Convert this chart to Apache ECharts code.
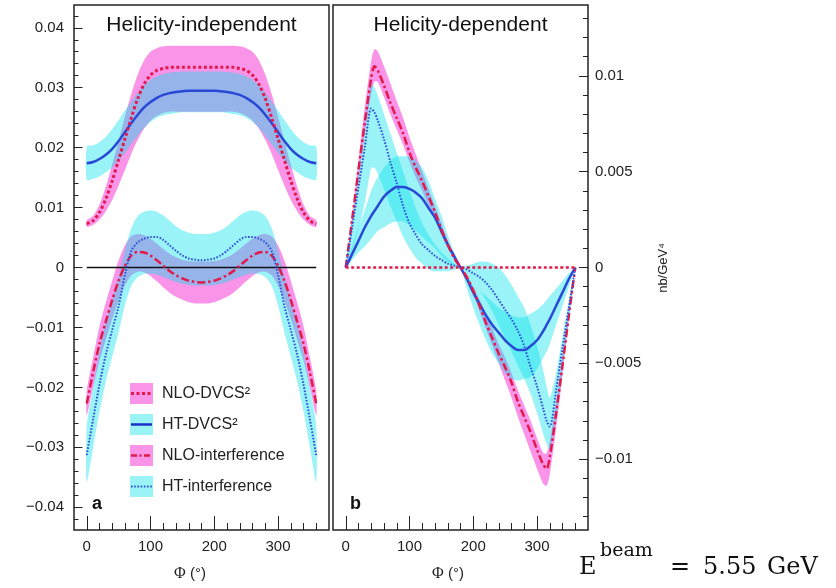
<!DOCTYPE html>
<html><head><meta charset="utf-8">
<script src="https://cdn.jsdelivr.net/npm/echarts@6/dist/echarts.min.js"></script>
<style>html,body{margin:0;padding:0;background:#fff}#c{width:836px;height:588px}</style>
</head><body><div id="c"></div>
<script>
// ---------- Panel a (helicity-independent) ----------
const phiA = [0,10,20,30,40,50,60,70,80,90,100,110,120,130,140,150,160,170,180,190,200,210,220,230,240,250,260,270,280,290,300,310,320,330,340,350,360];
const nloDvcsA = [0.0073,0.0078,0.0092,0.0115,0.0145,0.0180,0.0215,0.0250,0.0282,0.0306,0.0321,0.0329,0.0332,0.0334,0.0334,0.0334,0.0334,0.0334,0.0334,
  0.0334,0.0334,0.0334,0.0334,0.0334,0.0332,0.0329,0.0321,0.0306,0.0282,0.0250,0.0215,0.0180,0.0145,0.0115,0.0092,0.0078,0.0073];
const nloDvcsALow = [0.0068,0.0071,0.0080,0.0094,0.0113,0.0137,0.0163,0.0190,0.0213,0.0232,0.0245,0.0253,0.0258,0.0260,0.0260,0.0260,0.0260,0.0260,0.0260,
  0.0260,0.0260,0.0260,0.0260,0.0260,0.0258,0.0253,0.0245,0.0232,0.0213,0.0190,0.0163,0.0137,0.0113,0.0094,0.0080,0.0071,0.0068];
const nloDvcsAHigh = [0.0079,0.0086,0.0105,0.0135,0.0172,0.0212,0.0252,0.0290,0.0322,0.0346,0.0360,0.0366,0.0369,0.0370,0.0370,0.0370,0.0370,0.0370,0.0370,
  0.0370,0.0370,0.0370,0.0370,0.0370,0.0369,0.0366,0.0360,0.0346,0.0322,0.0290,0.0252,0.0212,0.0172,0.0135,0.0105,0.0086,0.0079];
const htDvcsA = [0.0174,0.0176,0.0181,0.0188,0.0198,0.0211,0.0226,0.0241,0.0255,0.0267,0.0276,0.0283,0.0288,0.0291,0.0293,0.0294,0.0295,0.0295,0.0295,
  0.0295,0.0295,0.0294,0.0293,0.0291,0.0288,0.0283,0.0276,0.0267,0.0255,0.0241,0.0226,0.0211,0.0198,0.0188,0.0181,0.0176,0.0174];
const htDvcsALow = [0.0146,0.0148,0.0152,0.0159,0.0167,0.0178,0.0191,0.0206,0.0220,0.0233,0.0243,0.0250,0.0254,0.0256,0.0258,0.0259,0.0259,0.0259,0.0259,
  0.0259,0.0259,0.0259,0.0258,0.0256,0.0254,0.0250,0.0243,0.0233,0.0220,0.0206,0.0191,0.0178,0.0167,0.0159,0.0152,0.0148,0.0146];
const htDvcsAHigh = [0.0202,0.0204,0.0209,0.0218,0.0231,0.0246,0.0262,0.0277,0.0292,0.0304,0.0313,0.0319,0.0323,0.0325,0.0326,0.0327,0.0327,0.0327,0.0327,
  0.0327,0.0327,0.0327,0.0326,0.0325,0.0323,0.0319,0.0313,0.0304,0.0292,0.0277,0.0262,0.0246,0.0231,0.0218,0.0209,0.0204,0.0202];
const nloIntA = [-0.0227,-0.0175,-0.0127,-0.0090,-0.0054,-0.0022,0.0003,0.0020,0.0026,0.0025,0.0020,0.0012,0.0003,-0.0006,-0.0013,-0.0018,-0.0022,-0.0024,-0.0025,
  -0.0024,-0.0022,-0.0018,-0.0013,-0.0006,0.0003,0.0012,0.0020,0.0025,0.0026,0.0020,0.0003,-0.0022,-0.0054,-0.0090,-0.0127,-0.0175,-0.0227];
const nloIntALow = [-0.0247,-0.0200,-0.0155,-0.0120,-0.0086,-0.0055,-0.0030,-0.0013,-0.0007,-0.0008,-0.0014,-0.0023,-0.0033,-0.0042,-0.0049,-0.0054,-0.0058,-0.0060,-0.0060,
  -0.0060,-0.0058,-0.0054,-0.0049,-0.0042,-0.0033,-0.0023,-0.0014,-0.0008,-0.0007,-0.0013,-0.0030,-0.0055,-0.0086,-0.0120,-0.0155,-0.0200,-0.0247];
const nloIntAHigh = [-0.0206,-0.0150,-0.0098,-0.0058,-0.0022,0.0012,0.0037,0.0052,0.0056,0.0054,0.0048,0.0040,0.0031,0.0023,0.0017,0.0013,0.0011,0.0010,0.0010,
  0.0010,0.0011,0.0013,0.0017,0.0023,0.0031,0.0040,0.0048,0.0054,0.0056,0.0052,0.0037,0.0012,-0.0022,-0.0058,-0.0098,-0.0150,-0.0206];
const htIntA = [-0.0313,-0.0253,-0.0195,-0.0145,-0.0104,-0.0064,-0.0012,0.0028,0.0042,0.0048,0.0051,0.0051,0.0046,0.0037,0.0028,0.0020,0.0015,0.0013,0.0012,
  0.0013,0.0015,0.0020,0.0028,0.0037,0.0046,0.0051,0.0051,0.0048,0.0042,0.0028,-0.0012,-0.0064,-0.0104,-0.0145,-0.0195,-0.0253,-0.0313];
const htIntALow = [-0.0358,-0.0300,-0.0240,-0.0190,-0.0148,-0.0108,-0.0062,-0.0030,-0.0016,-0.0011,-0.0010,-0.0012,-0.0016,-0.0020,-0.0024,-0.0027,-0.0029,-0.0030,-0.0030,
  -0.0030,-0.0029,-0.0027,-0.0024,-0.0020,-0.0016,-0.0012,-0.0010,-0.0011,-0.0016,-0.0030,-0.0062,-0.0108,-0.0148,-0.0190,-0.0240,-0.0300,-0.0358];
const htIntAHigh = [-0.0266,-0.0200,-0.0140,-0.0092,-0.0055,-0.0015,0.0030,0.0066,0.0086,0.0093,0.0095,0.0093,0.0087,0.0078,0.0069,0.0062,0.0058,0.0056,0.0056,
  0.0056,0.0058,0.0062,0.0069,0.0078,0.0087,0.0093,0.0095,0.0093,0.0086,0.0066,0.0030,-0.0015,-0.0055,-0.0092,-0.0140,-0.0200,-0.0266];
const zeroPhi = [0, 360];
const zeroVal = [0, 0];

// ---------- Panel b (helicity-dependent) ----------
const phiB = [0,10,20,30,40,45,50,60,70,80,90,100,110,120,130,140,150,160,170,180,190,200,210,220,230,240,250,260,270,280,290,300,310,315,320,330,340,350,360];
const nloDvcsBPhi = [0, 360];
const nloDvcsB = [0, 0];
const htDvcsB = [0,0.0007,0.0014,0.0021,0.0027,0.00295,0.0032,0.0037,0.0040,0.0042,0.0042,0.0041,0.0039,0.0036,0.0031,0.0026,0.0019,0.0012,0.0006,0,
  -0.0006,-0.0013,-0.0019,-0.0025,-0.0030,-0.0034,-0.0038,-0.0041,-0.0043,-0.0043,-0.0041,-0.0038,-0.0033,-0.0030,-0.0027,-0.0020,-0.0013,-0.0006,0];
const htDvcsBLow = [0,0.0004,0.0008,0.0011,0.0015,0.0017,0.0019,0.0021,0.0023,0.0024,0.0024,0.0022,0.0019,0.0016,0.0013,0.0010,0.0006,0.0003,0.0001,0,
  -0.0011,-0.0021,-0.0030,-0.0038,-0.0045,-0.0050,-0.0055,-0.0058,-0.0059,-0.0058,-0.0057,-0.0053,-0.0047,-0.0044,-0.0040,-0.0030,-0.0020,-0.0010,0];
const htDvcsBHigh = [0,0.0011,0.0021,0.0030,0.0040,0.0044,0.0047,0.0052,0.0056,0.0058,0.0058,0.0058,0.0056,0.0052,0.0045,0.0036,0.0027,0.0017,0.0008,0,
  -0.0004,-0.0008,-0.0012,-0.0015,-0.0018,-0.0021,-0.0023,-0.0025,-0.0026,-0.0026,-0.0024,-0.0022,-0.0019,-0.0017,-0.0015,-0.0011,-0.0007,-0.0003,0];
const nloIntB = [0,0.0025,0.0051,0.0076,0.0099,0.0105,0.0103,0.0095,0.0086,0.0078,0.0070,0.0060,0.0052,0.0045,0.0037,0.0029,0.0020,0.0012,0.0005,0,
  -0.0005,-0.0012,-0.0020,-0.0029,-0.0037,-0.0045,-0.0052,-0.0060,-0.0070,-0.0078,-0.0086,-0.0095,-0.0103,-0.0105,-0.0099,-0.0076,-0.0051,-0.0025,0];
const nloIntBLow = [0,0.0023,0.0047,0.0070,0.0091,0.0097,0.0097,0.0089,0.0080,0.0072,0.0064,0.0055,0.0047,0.0040,0.0032,0.0025,0.0017,0.0010,0.0004,0,
  -0.0006,-0.0014,-0.0023,-0.0032,-0.0041,-0.0050,-0.0059,-0.0068,-0.0078,-0.0087,-0.0096,-0.0105,-0.0113,-0.0114,-0.0108,-0.0084,-0.0056,-0.0027,0];
const nloIntBHigh = [0,0.0027,0.0056,0.0084,0.0108,0.0114,0.0113,0.0105,0.0096,0.0087,0.0078,0.0068,0.0059,0.0050,0.0041,0.0032,0.0023,0.0014,0.0006,0,
  -0.0004,-0.0010,-0.0017,-0.0025,-0.0032,-0.0040,-0.0047,-0.0055,-0.0064,-0.0072,-0.0080,-0.0089,-0.0097,-0.0097,-0.0091,-0.0070,-0.0047,-0.0023,0];
const htIntB = [0,0.0021,0.0042,0.0063,0.0083,0.0081,0.0077,0.0067,0.0055,0.0044,0.0032,0.0023,0.0017,0.0012,0.0009,0.0006,0.0004,0.0002,0.0001,0,
  -0.0001,-0.0003,-0.0005,-0.0008,-0.0012,-0.0017,-0.0022,-0.0027,-0.0033,-0.0041,-0.0052,-0.0062,-0.0074,-0.0080,-0.0083,-0.0064,-0.0042,-0.0021,0];
const htIntBLow = [0,0.0009,0.0020,0.0034,0.0052,0.0052,0.0049,0.0041,0.0032,0.0024,0.0016,0.0010,0.0005,0.0002,-0.0001,-0.0002,-0.0002,-0.0002,-0.0001,0,
  -0.0004,-0.0008,-0.0012,-0.0017,-0.0023,-0.0030,-0.0037,-0.0044,-0.0051,-0.0058,-0.0066,-0.0076,-0.0087,-0.0092,-0.0095,-0.0078,-0.0052,-0.0026,0];
const htIntBHigh = [0,0.0024,0.0049,0.0073,0.0096,0.0094,0.0090,0.0080,0.0070,0.0060,0.0050,0.0040,0.0031,0.0023,0.0017,0.0012,0.0008,0.0005,0.0002,0,
  0.0001,0.0002,0.0003,0.0003,0.0002,0.0000,-0.0004,-0.0009,-0.0015,-0.0021,-0.0030,-0.0041,-0.0054,-0.0062,-0.0068,-0.0055,-0.0036,-0.0017,0];

// ---------- ticks and labels ----------
const xMinorTicks = [0,20,40,60,80,100,120,140,160,180,200,220,240,260,280,300,320,340,360];
const xMajorTicks = [0,100,200,300];
const xLabels = [0,100,200,300];
const yAMinorTicks = [-0.042,-0.040,-0.038,-0.036,-0.034,-0.032,-0.030,-0.028,-0.026,-0.024,-0.022,-0.020,-0.018,-0.016,-0.014,-0.012,-0.010,-0.008,-0.006,-0.004,-0.002,0,
  0.002,0.004,0.006,0.008,0.010,0.012,0.014,0.016,0.018,0.020,0.022,0.024,0.026,0.028,0.030,0.032,0.034,0.036,0.038,0.040,0.042];
const yAMajorTicks = [-0.04,-0.03,-0.02,-0.01,0,0.01,0.02,0.03,0.04];
const yALabels = [-0.04,-0.03,-0.02,-0.01,0,0.01,0.02,0.03,0.04];
const yBMinorTicks = [-0.013,-0.012,-0.011,-0.010,-0.009,-0.008,-0.007,-0.006,-0.005,-0.004,-0.003,-0.002,-0.001,0,
  0.001,0.002,0.003,0.004,0.005,0.006,0.007,0.008,0.009,0.010,0.011,0.012,0.013];
const yBMajorTicks = [-0.01,-0.005,0,0.005,0.01];
const yBLabels = [-0.01,-0.005,0,0.005,0.01];

// ---------- build ----------
const SANS = '"Liberation Sans", Arial, Helvetica, sans-serif';
const PINK = 'rgba(245,60,215,0.55)';
const CYAN = 'rgba(0,225,235,0.40)';
const RED = '#e3194b';
const BLUE = '#2848d6';
const BLUE_DOT = '#2f50d8';
const SM = 0.3;

function fmt(v) {
  if (Math.abs(v) < 1e-12) return '0';
  const s = String(parseFloat(Math.abs(v).toFixed(4)));
  return (v < 0 ? '\u2212' : '') + s;
}
function pairs(px, py) { return px.map((p, i) => [p, py[i]]); }
function band(id, xi, yi, px, lo, hi, color, z) {
  return {
    type:'custom', name:id, xAxisIndex:xi, yAxisIndex:yi, clip:true, silent:true, z:z,
    data: px.map((p, i) => [p, lo[i], hi[i]]),
    encode:{x:0, y:[1,2]},
    renderItem: function (params, api) {
      if (params.dataIndexInside !== 0) return null;
      const n = params.dataInsideLength;
      const up = [], dn = [];
      for (let i = 0; i < n; i++) {
        const x = api.value(0, i);
        up.push(api.coord([x, api.value(2, i)]));
        dn.push(api.coord([x, api.value(1, i)]));
      }
      return { type:'polygon', shape:{points: up.concat(dn.reverse()), smooth:0.25}, style:{fill:color} };
    }
  };
}
function curve(name, xi, yi, px, py, color, width, type, z) {
  return { type:'line', name, xAxisIndex:xi, yAxisIndex:yi, data:pairs(px, py), symbol:'none',
    smooth:SM, lineStyle:{color, width, type, cap:'butt'}, z:z, silent:true };
}

const series = [
  band('a1', 0, 0, phiA, nloDvcsALow, nloDvcsAHigh, PINK, 1),
  band('a3', 0, 0, phiA, nloIntALow, nloIntAHigh, PINK, 1),
  band('a2', 0, 0, phiA, htDvcsALow, htDvcsAHigh, CYAN, 2),
  band('a4', 0, 0, phiA, htIntALow, htIntAHigh, CYAN, 2),
  band('b3', 2, 2, phiB, nloIntBLow, nloIntBHigh, PINK, 1),
  band('b2', 2, 2, phiB, htDvcsBLow, htDvcsBHigh, CYAN, 2),
  band('b4', 2, 2, phiB, htIntBLow, htIntBHigh, CYAN, 2),
  curve('zeroA', 0, 0, zeroPhi, zeroVal, '#111', 1.6, 'solid', 5),
  curve('htDvcsA', 0, 0, phiA, htDvcsA, BLUE, 2.5, 'solid', 6),
  curve('nloDvcsA', 0, 0, phiA, nloDvcsA, RED, 3, [3, 2.5], 6),
  curve('nloIntA', 0, 0, phiA, nloIntA, RED, 2.5, [8, 3, 2.5, 3], 6),
  curve('htIntA', 0, 0, phiA, htIntA, BLUE_DOT, 2, [1.6, 1.6], 7),
  curve('htDvcsB', 2, 2, phiB, htDvcsB, BLUE, 2.5, 'solid', 6),
  curve('nloIntB', 2, 2, phiB, nloIntB, RED, 2.5, [8, 3, 2.5, 3], 6),
  curve('htIntB', 2, 2, phiB, htIntB, BLUE_DOT, 2, [1.6, 1.6], 7),
  curve('nloDvcsB', 2, 2, nloDvcsBPhi, nloDvcsB, RED, 2.5, [3, 2.5], 8)
];

const tickStyle = {color:'#222', width:1};
function xAx(grid, major) {
  return { gridIndex:grid, type:'value', min:-20, max:380, position:'bottom',
    axisLine:{show:false, onZero:false},
    axisTick:{show:true, inside:true, length: major ? 14 : 7, customValues: major ? xMajorTicks : xMinorTicks, lineStyle:tickStyle},
    axisLabel: major ? {show:false} : {show:true, customValues:xLabels, margin:9, fontSize:15, color:'#222', fontFamily:SANS},
    splitLine:{show:false} };
}
function yAx(grid, pos, min, max, minorT, majorT, labels, major, lenMinor, lenMajor, margin) {
  return { gridIndex:grid, type:'value', min, max, position:pos,
    axisLine:{show:false, onZero:false},
    axisTick:{show:true, inside:true, length: major ? lenMajor : lenMinor, customValues: major ? majorT : minorT, lineStyle:tickStyle},
    axisLabel: major ? {show:false} : {show:true, customValues:labels, formatter:fmt, margin, fontSize:15, color:'#222', fontFamily:SANS},
    splitLine:{show:false} };
}

const legendRows = [
  {y:393.5, fill:PINK, label:'NLO-DVCS\u00b2', stroke:RED, w:3, dash:[3,2.5]},
  {y:424.5, fill:CYAN, label:'HT-DVCS\u00b2', stroke:'#1f30c8', w:2.5, dash:null},
  {y:455.5, fill:PINK, label:'NLO-interference', stroke:RED, w:2.5, dash:[6,2.5,2,2.5]},
  {y:486.5, fill:CYAN, label:'HT-interference', stroke:BLUE_DOT, w:2, dash:[1.6,1.6]}
];
const graphics = [];
legendRows.forEach(r => {
  graphics.push({type:'rect', shape:{x:130, y:r.y-10.5, width:23, height:21}, style:{fill:r.fill}, z:20});
  graphics.push({type:'line', shape:{x1:131, y1:r.y, x2:152, y2:r.y}, style:{stroke:r.stroke, lineWidth:r.w, lineDash:r.dash}, z:21});
  graphics.push({type:'text', x:162, y:r.y+0.5, style:{text:r.label, font:'16px '+SANS, fill:'#222', verticalAlign:'middle'}, z:21});
});
graphics.push(
  {type:'text', x:201.5, y:25, style:{text:'Helicity-independent', font:'21px '+SANS, fill:'#111', align:'center', verticalAlign:'middle'}, z:21},
  {type:'text', x:460.5, y:25, style:{text:'Helicity-dependent', font:'21px '+SANS, fill:'#111', align:'center', verticalAlign:'middle'}, z:21},
  {type:'text', x:92, y:504, style:{text:'a', font:'bold 18px '+SANS, fill:'#111', verticalAlign:'middle'}, z:21},
  {type:'text', x:350, y:504, style:{text:'b', font:'bold 18px '+SANS, fill:'#111', verticalAlign:'middle'}, z:21},
  {type:'text', x:190, y:574, style:{text:'{p|\u03a6} (\u00b0)', rich:{p:{fontFamily:'"Liberation Serif", serif', fontSize:16, fill:'#222'}}, font:'15px '+SANS, fill:'#222', align:'center', verticalAlign:'middle'}, z:21},
  {type:'text', x:448, y:574, style:{text:'{p|\u03a6} (\u00b0)', rich:{p:{fontFamily:'"Liberation Serif", serif', fontSize:16, fill:'#222'}}, font:'15px '+SANS, fill:'#222', align:'center', verticalAlign:'middle'}, z:21},
  {type:'text', x:663, y:268, rotation:Math.PI/2, style:{text:'nb/GeV\u2074', font:'13px '+SANS, fill:'#222', align:'center', verticalAlign:'middle'}, z:21},
  {type:'text', x:579, y:567.5, style:{text:'E', font:'24px "DejaVu Serif", serif', fill:'#111', verticalAlign:'middle'}, z:21},
  {type:'text', x:600, y:551, style:{text:'beam', font:'19px "DejaVu Serif", serif', fill:'#111', verticalAlign:'middle'}, z:21},
  {type:'text', x:670, y:567.5, style:{text:'=', font:'24px "DejaVu Serif", serif', fill:'#111', verticalAlign:'middle'}, z:21},
  {type:'text', x:703, y:567.5, style:{text:'5.55', font:'24px "DejaVu Serif", serif', fill:'#111', verticalAlign:'middle'}, z:21},
  {type:'text', x:767, y:567.5, style:{text:'GeV', font:'24px "DejaVu Serif", serif', fill:'#111', verticalAlign:'middle'}, z:21}
);

const option = {
  animation:false,
  backgroundColor:'#fff',
  grid:[
    {left:74, top:5, width:255, height:525, show:true, borderColor:'#222', borderWidth:1.5, backgroundColor:'rgba(0,0,0,0)'},
    {left:333, top:5, width:255, height:525, show:true, borderColor:'#222', borderWidth:1.5, backgroundColor:'rgba(0,0,0,0)'}
  ],
  xAxis:[xAx(0,false), xAx(0,true), xAx(1,false), xAx(1,true)],
  yAxis:[
    yAx(0,'left',-0.0438,0.0438,yAMinorTicks,yAMajorTicks,yALabels,false,4.5,8.5,10),
    yAx(0,'left',-0.0438,0.0438,yAMinorTicks,yAMajorTicks,yALabels,true,4.5,8.5,10),
    yAx(1,'right',-0.0137,0.0137,yBMinorTicks,yBMajorTicks,yBLabels,false,5,9,7),
    yAx(1,'right',-0.0137,0.0137,yBMinorTicks,yBMajorTicks,yBLabels,true,5,9,7)
  ],
  series:series,
  graphic:graphics
};
const chart = echarts.init(document.getElementById('c'), null, {renderer:'canvas'});
chart.setOption(option);
</script>
</body></html>
